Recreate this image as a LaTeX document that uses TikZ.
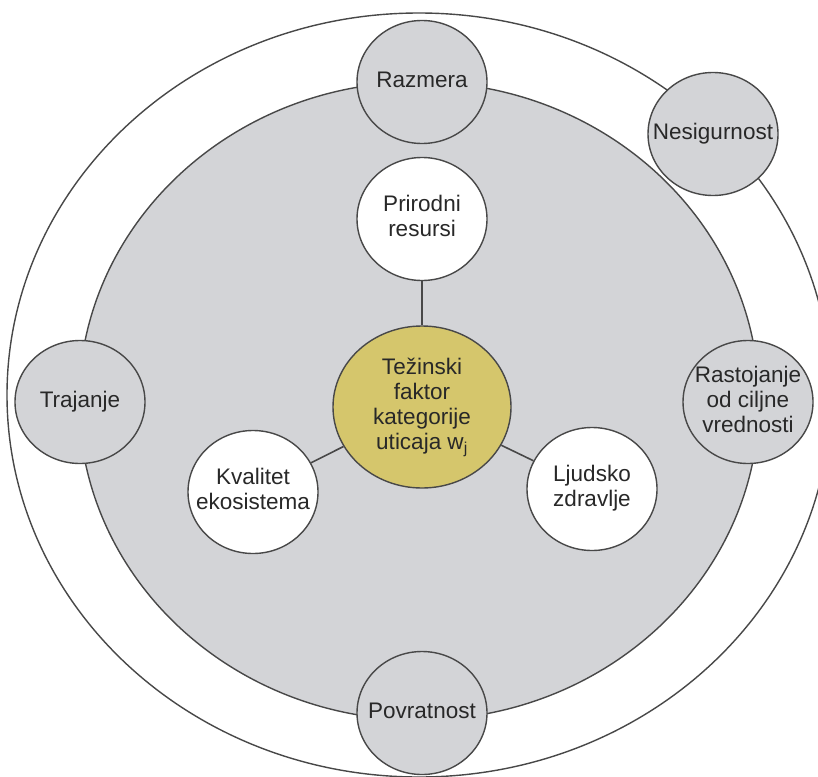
\documentclass[tikz,border=0pt]{standalone}
\usepackage{fontspec}
\setmainfont{Liberation Sans}
\usetikzlibrary{shapes.geometric}
\definecolor{ringgray}{RGB}{211,212,215}
\definecolor{linegray}{RGB}{72,72,72}
\definecolor{txtgray}{RGB}{40,40,40}
\definecolor{coreyellow}{RGB}{213,198,108}
\newcommand{\zwtext}[1]{\makebox[0pt]{\begin{tabular}{@{}c@{}}#1\end{tabular}}}
\tikzset{
  bubble/.style={ellipse, draw=linegray, line width=1.4pt, inner sep=0pt,
    minimum width=130pt, minimum height=123pt,
    text=txtgray, font=\fontsize{22.5}{25}\selectfont},
  outerbubble/.style={bubble, fill=ringgray},
  innerbubble/.style={bubble, fill=white},
  corebubble/.style={bubble, fill=coreyellow, minimum width=178pt, minimum height=162pt},
  link/.style={draw=linegray, line width=1.6pt}
}
\begin{document}
\begin{tikzpicture}[x=1pt,y=-1pt]
\useasboundingbox (0,0) rectangle (818,776);
\clip (0,0) rectangle (818,776);
\fill[white] (0,0) rectangle (818,776);
% outer ring
\draw[linegray, line width=1.4pt, fill=white] (419,395) ellipse [x radius=412pt, y radius=382pt];
% inner gray region
\draw[linegray, line width=1.4pt, fill=ringgray] (419,401) ellipse [x radius=340pt, y radius=319pt];
% outer circles
\node[outerbubble] (razmera) at (422,82) {\zwtext{Razmera}};
\node[outerbubble] (nesig) at (713,134) {\zwtext{Nesigurnost}};
\node[outerbubble] (trajanje) at (80,402) {\zwtext{Trajanje}};
\node[outerbubble] (rastoj) at (748,402) {\zwtext{Rastojanje\\od ciljne\\vrednosti}};
\node[outerbubble] (povrat) at (422,713) {\zwtext{Povratnost}};
% inner circles
\node[innerbubble] (prirodni) at (422,219) {\zwtext{Prirodni\\resursi}};
\node[innerbubble] (kvalitet) at (253,492) {\zwtext{Kvalitet\\ekosistema}};
\node[innerbubble] (ljudsko) at (592,489) {\zwtext{Ljudsko\\zdravlje}};
\node[corebubble] (core) at (422,407) {\zwtext{Težinski\\faktor\\kategorije\\uticaja w\textsubscript{j}}};
% connectors
\path[link] (prirodni) -- (core);
\path[link] (kvalitet) -- (core);
\path[link] (ljudsko) -- (core);
\end{tikzpicture}
\end{document}
